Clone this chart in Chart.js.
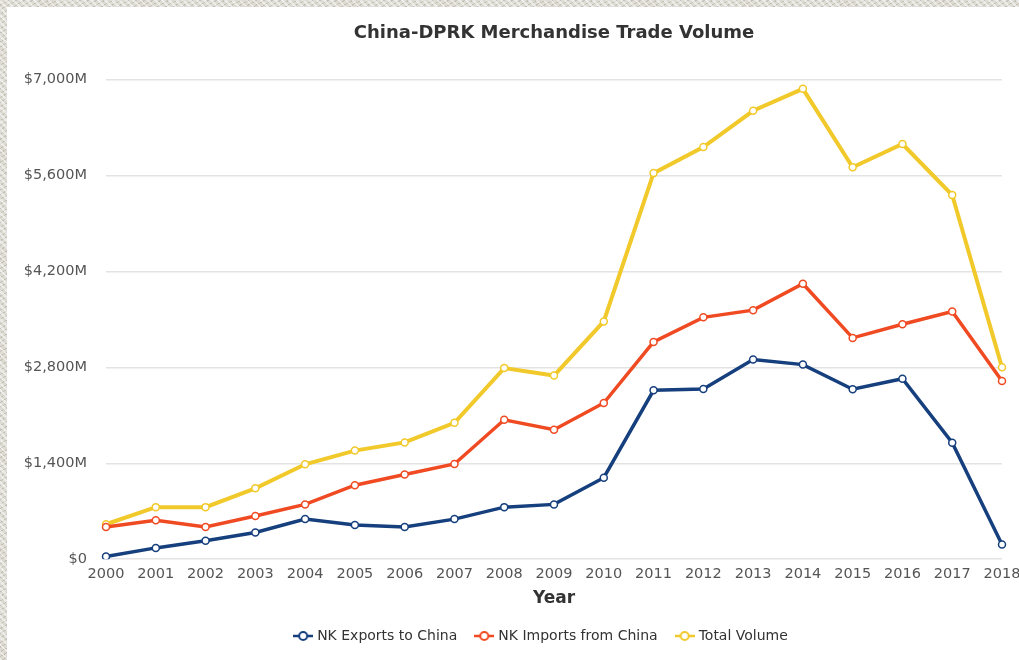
<!DOCTYPE html>
<html>
<head>
<meta charset="utf-8">
<script src="https://cdn.jsdelivr.net/npm/chart.js@4/dist/chart.umd.min.js"></script>
<style>
    html, body {
        margin: 0;
        width: 1019px;
        height: 660px;
        overflow: hidden;
    }
    body {
        background-color: #dedbd3;
        background-image:
            repeating-linear-gradient(45deg, rgba(255,255,255,0.5) 0 2px, transparent 2px 5px),
            repeating-linear-gradient(-30deg, rgba(150,145,135,0.35) 0 1px, transparent 1px 4px);
    }
    #panel {
        position: absolute;
        left: 7px;
        top: 7px;
        width: 1094px;
        height: 653px;
        background: #fff;
    }
</style>
</head>
<body>
<div id="panel"><canvas id="tradeChart"></canvas></div>
<script>
// China-DPRK trade, millions USD
const years = ['2000', '2001', '2002', '2003', '2004', '2005', '2006', '2007', '2008', '2009',
               '2010', '2011', '2012', '2013', '2014', '2015', '2016', '2017', '2018'];
const nkExports = [40, 165, 270, 390, 585, 500, 470, 585, 760, 800,
                   1190, 2465, 2485, 2915, 2840, 2480, 2635, 1700, 215];
const nkImports = [470, 570, 470, 630, 800, 1080, 1235, 1390, 2035, 1890,
                   2280, 3170, 3530, 3635, 4020, 3230, 3430, 3615, 2600];
const totalVolume = [510, 760, 760, 1035, 1385, 1585, 1705, 1990, 2790, 2680,
                     3470, 5635, 6015, 6545, 6865, 5720, 6060, 5315, 2800];
const yTicks = [0, 1400, 2800, 4200, 5600, 7000];

const colors = {
    exports: '#163f7e',
    imports: '#f04a22',
    total: '#f1c92a'
};

// legend icon: short line with hollow marker
function legendIcon(color) {
    const c = document.createElement('canvas');
    c.width = 20;
    c.height = 12;
    const g = c.getContext('2d');
    g.strokeStyle = color;
    g.lineWidth = 2.5;
    g.beginPath();
    g.moveTo(0, 6);
    g.lineTo(20, 6);
    g.stroke();
    g.beginPath();
    g.arc(10, 6, 4, 0, Math.PI * 2);
    g.fillStyle = '#fff';
    g.fill();
    g.lineWidth = 2;
    g.stroke();
    return c;
}

function makeSeries(label, data, color, width) {
    return {
        label: label,
        data: data,
        borderColor: color,
        backgroundColor: '#fff',
        borderWidth: width,
        pointRadius: 3.5,
        pointBorderWidth: 1.5,
        pointBorderColor: color,
        pointBackgroundColor: '#fff',
        tension: 0,
        icon: legendIcon(color)
    };
}

// legend sits a little left of the plot centre in the original
const legendShift = {
    id: 'legendShift',
    afterLayout: function(chart) {
        chart.legend.left -= 12;
        chart.legend.right -= 12;
    }
};

const ctx = document.getElementById('tradeChart').getContext('2d');
new Chart(ctx, {
    type: 'line',
    data: {
        labels: years,
        datasets: [
            makeSeries('NK Exports to China', nkExports, colors.exports, 3.5),
            makeSeries('NK Imports from China', nkImports, colors.imports, 3.5),
            makeSeries('Total Volume', totalVolume, colors.total, 4)
        ]
    },
    plugins: [legendShift],
    options: {
        responsive: true,
        maintainAspectRatio: false,
        animation: false,
        layout: {
            padding: { left: 0, right: 0, top: 0, bottom: 7 }
        },
        plugins: {
            title: {
                display: true,
                text: 'China-DPRK Merchandise Trade Volume',
                color: '#333',
                font: { family: 'DejaVu Sans', size: 18, weight: 'bold' },
                padding: { top: 15.5, bottom: 35.5 }
            },
            legend: {
                position: 'bottom',
                labels: {
                    usePointStyle: true,
                    pointStyleWidth: 14,
                    color: '#333',
                    font: { family: 'DejaVu Sans', size: 14 },
                    padding: 20,
                    generateLabels: function(chart) {
                        const items = Chart.defaults.plugins.legend.labels.generateLabels(chart);
                        items.forEach(function(item) {
                            item.pointStyle = chart.data.datasets[item.datasetIndex].icon;
                        });
                        return items;
                    }
                }
            },
            tooltip: { enabled: false }
        },
        scales: {
            x: {
                offset: false,
                grid: { display: false, drawTicks: false },
                border: { display: false },
                ticks: {
                    color: '#555',
                    font: { family: 'DejaVu Sans', size: 14.5 },
                    padding: 6,
                    maxRotation: 0,
                    autoSkip: false
                },
                title: {
                    display: true,
                    text: 'Year',
                    color: '#333',
                    font: { family: 'DejaVu Sans', size: 17, weight: 'bold' },
                    padding: { top: 0, bottom: 0 }
                }
            },
            y: {
                min: 0,
                max: 7000,
                afterFit: function(scale) {
                    scale.width = 99;
                },
                afterBuildTicks: function(scale) {
                    scale.ticks = yTicks.map(function(v) { return { value: v }; });
                },
                grid: { color: '#e3e3e3', lineWidth: 1.5, drawTicks: false },
                border: { display: false },
                ticks: {
                    color: '#555',
                    font: { family: 'DejaVu Sans', size: 14.5 },
                    padding: 19,
                    callback: function(value) {
                        return value === 0 ? '$0' : '$' + value.toLocaleString('en-US') + 'M';
                    }
                }
            },
            // empty right axis, only reserves space so the plot ends where the original does
            spacer: {
                position: 'right',
                grid: { display: false, drawTicks: false },
                border: { display: false },
                ticks: { display: false },
                afterFit: function(scale) {
                    scale.width = 99;
                }
            }
        }
    }
});
</script>
</body>
</html>
